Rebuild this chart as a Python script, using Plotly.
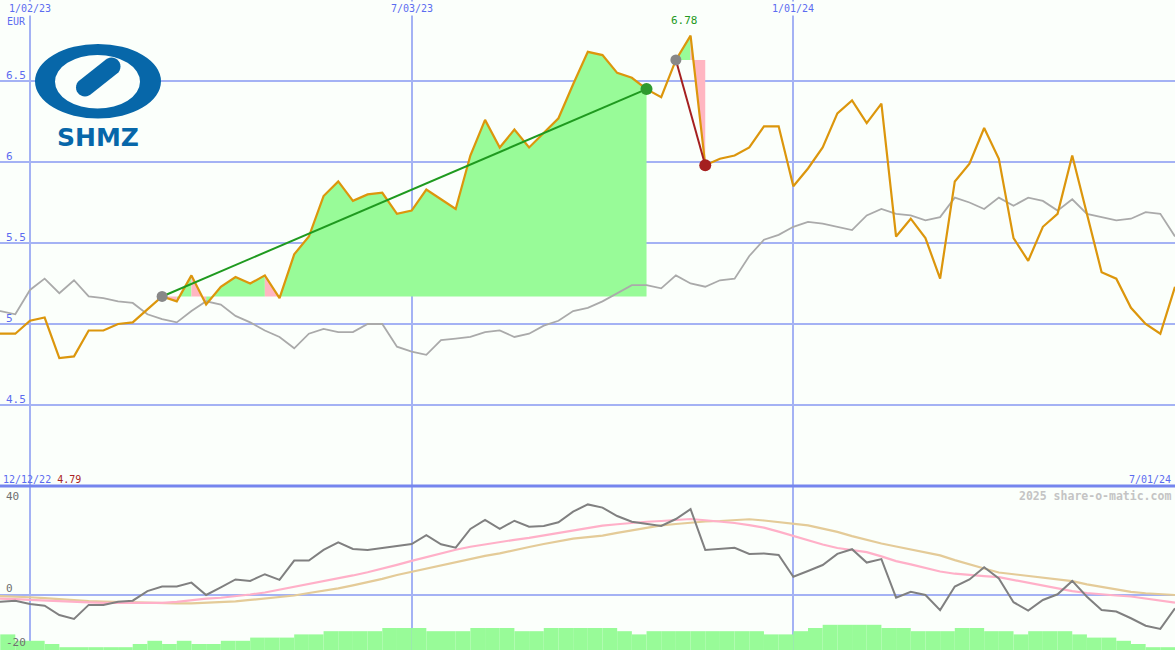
import math
import pandas as pd
import plotly.graph_objects as go

W, H = 1175, 650
BG = "#fbfffb"
GRID = "#a4b2f4"
BLUE_TXT = "#5b6cf0"
FONT = "DejaVu Sans Mono"

# ---------------- data ----------------
dates = pd.date_range("2022-12-12", periods=82, freq="7D")

price = [4.94, 4.94, 4.94, 5.02, 5.04, 4.79, 4.80, 4.96, 4.96, 5.00,
         5.01, 5.09, 5.17, 5.14, 5.30, 5.12, 5.23, 5.29, 5.25, 5.30,
         5.16, 5.43, 5.54, 5.79, 5.88, 5.76, 5.80, 5.81, 5.68, 5.70,
         5.83, 5.77, 5.71, 6.04, 6.26, 6.09, 6.20, 6.09, 6.18, 6.27,
         6.48, 6.68, 6.66, 6.55, 6.52, 6.45, 6.40, 6.63, 6.78, 5.98,
         6.02, 6.04, 6.09, 6.22, 6.22, 5.85, 5.96, 6.09, 6.30, 6.38,
         6.24, 6.36, 5.54, 5.65, 5.53, 5.28, 5.88, 5.99, 6.21, 6.02,
         5.53, 5.39, 5.60, 5.68, 6.04, 5.68, 5.32, 5.28, 5.10, 5.00,
         4.94, 5.23]

index_line = [5.08, 5.08, 5.06, 5.21, 5.28, 5.19, 5.27, 5.17, 5.16, 5.14,
              5.13, 5.06, 5.03, 5.01, 5.08, 5.14, 5.12, 5.05, 5.01, 4.96,
              4.92, 4.85, 4.94, 4.97, 4.95, 4.95, 5.00, 5.00, 4.86, 4.83,
              4.81, 4.90, 4.91, 4.92, 4.95, 4.96, 4.92, 4.94, 4.99, 5.02,
              5.08, 5.10, 5.14, 5.19, 5.24, 5.24, 5.22, 5.30, 5.25, 5.23,
              5.27, 5.28, 5.42, 5.52, 5.55, 5.60, 5.63, 5.62, 5.60, 5.58,
              5.67, 5.71, 5.68, 5.67, 5.64, 5.66, 5.78, 5.75, 5.71, 5.78,
              5.73, 5.78, 5.76, 5.70, 5.77, 5.68, 5.66, 5.64, 5.65, 5.69,
              5.68, 5.54]

momentum = [-2.7, -2.7, -2.3, -3.6, -4.3, -8.1, -9.7, -4.0, -4.0, -2.7,
            -2.3, 1.6, 3.4, 3.4, 5.0, 0.0, 3.1, 6.3, 5.7, 8.4,
            6.1, 13.9, 13.9, 18.2, 21.3, 18.6, 18.2, 18.9, 19.8, 20.6,
            24.2, 20.5, 19.1, 26.7, 30.3, 26.7, 30.0, 27.6, 27.9, 29.4,
            33.7, 36.6, 35.3, 31.9, 29.6, 28.6, 27.9, 30.7, 34.7, 18.2,
            18.6, 19.1, 16.6, 16.8, 16.2, 7.4, 9.7, 12.1, 16.6, 18.5,
            13.1, 14.5, -1.1, 1.3, 0.0, -6.1, 3.4, 6.3, 11.2, 6.7,
            -2.9, -6.3, -2.0, 0.3, 5.7, -0.7, -6.1, -6.7, -9.4, -12.4,
            -13.7, -5.4]

avg_fast = [-1.2, -1.3, -1.7, -2.0, -2.3, -2.5, -2.8, -3.0, -3.2, -3.2,
            -3.3, -3.3, -3.2, -2.8, -2.1, -1.5, -1.1, -0.6, 0.2, 1.0,
            2.1, 3.2, 4.4, 5.6, 6.7, 7.9, 9.2, 10.6, 12.2, 13.8,
            15.4, 16.9, 18.3, 19.5, 20.5, 21.5, 22.3, 23.1, 24.1, 25.0,
            26.0, 27.1, 28.0, 28.6, 29.2, 29.6, 29.9, 30.3, 30.7, 30.2,
            29.7, 29.1, 28.2, 27.2, 25.6, 23.8, 22.0, 20.4, 19.0, 18.1,
            17.3, 15.6, 13.7, 12.4, 10.9, 9.5, 8.6, 8.0, 7.6, 7.2,
            6.1, 4.8, 3.8, 2.6, 1.6, 0.8, 0.2, -0.2, -0.6, -1.4,
            -2.2, -3.1]

avg_slow = [-0.2, -0.4, -0.6, -0.9, -1.3, -1.8, -2.2, -2.5, -2.7, -2.9,
            -3.1, -3.2, -3.4, -3.4, -3.4, -3.2, -2.9, -2.6, -2.0, -1.4,
            -0.8, -0.2, 0.8, 1.7, 2.7, 3.9, 5.1, 6.5, 8.1, 9.4,
            10.6, 12.0, 13.4, 14.7, 15.8, 16.8, 18.2, 19.4, 20.6, 21.8,
            22.8, 23.4, 24.0, 25.1, 26.2, 27.3, 28.1, 28.7, 29.3, 29.7,
            29.9, 30.3, 30.6, 30.1, 29.5, 28.9, 28.1, 26.8, 25.5, 23.8,
            22.2, 20.8, 19.6, 18.5, 17.4, 16.0, 14.1, 12.3, 10.7, 9.1,
            8.4, 7.7, 7.1, 6.6, 5.6, 4.3, 3.2, 2.2, 1.3, 0.7,
            0.4, 0.0]

volume_level = [5, 5, 3, 3, 2, 1, 1, 1, 1, 1,
                2, 3, 2, 3, 2, 2, 3, 3, 4, 4,
                4, 5, 5, 6, 6, 6, 6, 7, 7, 7,
                6, 6, 6, 7, 7, 7, 6, 6, 7, 7,
                7, 7, 7, 6, 5, 6, 6, 6, 6, 6,
                6, 6, 6, 5, 5, 6, 7, 8, 8, 8,
                8, 7, 7, 6, 6, 6, 7, 7, 6, 6,
                5, 6, 6, 6, 5, 4, 4, 3, 2, 1,
                1, 1]

x_tick_dates = ["2023-01-02", "2023-07-03", "2024-01-01"]
y_ticks = [4.5, 5.0, 5.5, 6.0, 6.5]
y_tick_text = ["4.5", "5", "5.5", "6", "6.5"]
y2_ticks = [40, 0, -20]
y2_tick_text = ["40", "0", "-20"]
currency = "EUR"

# trend segments (start index, end index) into the series above
rise_seg = (12, 45)
fall_seg = (47, 49)

# ---------------- helpers ----------------
SPLIT = 1 - 486 / H


def fmt_date(d):
    d = pd.Timestamp(d)
    return f"{d.month}/{d.day:02d}/{d.year % 100:02d}"


def px(x, y):
    return x / W, 1 - y / H


x_start = pd.Timestamp("2023-01-02") - pd.Timedelta(days=30 * 182 / 382)
x_end = pd.Timestamp("2024-07-01")

GREEN_FILL = "#98fb98"
PINK_FILL = "#ffb6c1"

fig = go.Figure()


def seg_fill(i0, i1):
    base = price[i0]
    gx, gy, rx, ry = [], [], [], []
    for a in range(i0, i1):
        b = a + 1
        xs = [dates[a], dates[a], dates[b], dates[b], dates[a]]
        ys = [base, price[a], price[b], base, base]
        if price[b] >= base:
            gx += xs + [None]
            gy += ys + [None]
        else:
            rx += xs + [None]
            ry += ys + [None]
    for xs, ys, col in ((gx, gy, GREEN_FILL), (rx, ry, PINK_FILL)):
        if xs:
            fig.add_trace(go.Scatter(x=xs, y=ys, mode="lines", fill="toself",
                                     fillcolor=col, line=dict(width=0),
                                     hoverinfo="skip", xaxis="x", yaxis="y"))


seg_fill(*rise_seg)
seg_fill(*fall_seg)

# index (grey) line
fig.add_trace(go.Scatter(x=dates, y=index_line, mode="lines",
                         line=dict(color="#aaaaaa", width=1.8),
                         xaxis="x", yaxis="y"))
# price line
fig.add_trace(go.Scatter(x=dates, y=price, mode="lines",
                         line=dict(color="#dc960c", width=2.2),
                         xaxis="x", yaxis="y"))

# trend lines + markers
for (i0, i1), col, end_col in ((rise_seg, "#1f9a1f", "#2e9a2e"),
                               (fall_seg, "#a52020", "#a52020")):
    fig.add_trace(go.Scatter(x=[dates[i0], dates[i1]], y=[price[i0], price[i1]],
                             mode="lines", line=dict(color=col, width=2),
                             xaxis="x", yaxis="y"))
    fig.add_trace(go.Scatter(x=[dates[i0]], y=[price[i0]], mode="markers",
                             marker=dict(color="#888888", size=11, line=dict(width=0)),
                             xaxis="x", yaxis="y"))
    fig.add_trace(go.Scatter(x=[dates[i1]], y=[price[i1]], mode="markers",
                             marker=dict(color=end_col, size=12, line=dict(width=0)),
                             xaxis="x", yaxis="y"))

# lower panel
fig.add_trace(go.Bar(x=dates, y=volume_level, offset=0,
                     width=[7 * 24 * 3600 * 1000] * len(dates),
                     marker=dict(color=GREEN_FILL, line=dict(width=0)),
                     xaxis="x2", yaxis="y3"))
fig.add_trace(go.Scatter(x=dates, y=avg_slow, mode="lines",
                         line=dict(color="#e4cb98", width=2.2), xaxis="x2", yaxis="y2"))
fig.add_trace(go.Scatter(x=dates, y=avg_fast, mode="lines",
                         line=dict(color="#ffb0c8", width=2.2), xaxis="x2", yaxis="y2"))
fig.add_trace(go.Scatter(x=dates, y=momentum, mode="lines",
                         line=dict(color="#808080", width=2), xaxis="x2", yaxis="y2"))

axis_common = dict(showticklabels=False, zeroline=False, showline=False,
                   gridcolor=GRID, ticks="")

fig.update_layout(
    width=W, height=H, autosize=False,
    margin=dict(l=0, r=0, t=0, b=0, pad=0),
    paper_bgcolor=BG, plot_bgcolor=BG, showlegend=False,
    font=dict(family=FONT, size=10, color=BLUE_TXT),
    xaxis=dict(domain=[0, 1], range=[x_start, x_end], type="date", anchor="y",
               tickvals=x_tick_dates, gridwidth=1.5, **axis_common),
    yaxis=dict(domain=[SPLIT, 1], range=[4.0, 7.0], anchor="x",
               tickvals=y_ticks, gridwidth=2, **axis_common),
    xaxis2=dict(domain=[0, 1], range=[x_start, x_end], type="date", anchor="y2",
                tickvals=x_tick_dates, gridwidth=1.5, **axis_common),
    yaxis2=dict(domain=[0, SPLIT], range=[-22.22, 44.04], anchor="x2",
                tickvals=[0], gridwidth=2, **axis_common),
    yaxis3=dict(overlaying="y2", range=[0.125, 51.375], visible=False, anchor="x2"),
)

ann = []
# top date labels
for d in x_tick_dates:
    ann.append(dict(x=d, xref="x", y=1, yref="paper", yanchor="top", xanchor="center",
                    text=fmt_date(d), showarrow=False, yshift=-1, bgcolor=BG,
                    borderpad=1,
                    font=dict(family=FONT, size=10, color=BLUE_TXT)))
# currency label
ann.append(dict(x=px(5, 0)[0], xref="paper", y=px(0, 21.5)[1], yref="paper",
                xanchor="left", yanchor="middle", text=currency, showarrow=False,
                font=dict(family=FONT, size=10, color=BLUE_TXT)))
# price axis labels
for v, t in zip(y_ticks, y_tick_text):
    ann.append(dict(x=px(4, 0)[0], xref="paper", y=v, yref="y", xanchor="left",
                    yanchor="middle", yshift=6, text=t, showarrow=False,
                    font=dict(family=FONT, size=11, color=BLUE_TXT)))
# lower axis labels
for v, t, ys in zip(y2_ticks, y2_tick_text, [0, 6.5, 2.5]):
    ann.append(dict(x=px(4, 0)[0], xref="paper", y=v, yref="y2", xanchor="left",
                    yanchor="middle", yshift=ys, text=t, showarrow=False,
                    font=dict(family=FONT, size=11, color="#707070")))
# high label
i_max = max(range(len(price)), key=lambda i: price[i])
ann.append(dict(x=dates[i_max], xref="x", y=price[i_max], yref="y", yanchor="bottom",
                xshift=-6, yshift=7, text=f"{price[i_max]:.2f}", showarrow=False,
                font=dict(family=FONT, size=11, color="#229922")))
# start date + low
ann.append(dict(x=px(1, 0)[0], xref="paper", y=px(0, 479)[1], yref="paper",
                xanchor="left", yanchor="middle", showarrow=False,
                text=f"{fmt_date(dates[0])} <span style='color:#aa2222'>{min(price):.2f}</span>",
                font=dict(family=FONT, size=10, color=BLUE_TXT)))
ann.append(dict(x=px(1173, 0)[0], xref="paper", y=px(0, 479)[1], yref="paper",
                xanchor="right", yanchor="middle", showarrow=False,
                text=fmt_date(dates[-1]),
                font=dict(family=FONT, size=10, color=BLUE_TXT)))
ann.append(dict(x=px(1173, 0)[0], xref="paper", y=px(0, 496)[1], yref="paper",
                xanchor="right", yanchor="middle", showarrow=False,
                text="<b>2025 share-o-matic.com</b>",
                font=dict(family=FONT, size=11.5, color="#c4c4c4")))
# logo text
ann.append(dict(x=px(97.5, 0)[0], xref="paper", y=px(0, 137)[1], yref="paper",
                xanchor="center", yanchor="middle", showarrow=False,
                text="<b>SHMZ</b>",
                font=dict(family="DejaVu Sans", size=25, color="#0767a9")))
fig.update_layout(annotations=ann)

# ---------------- shapes ----------------
shapes = []
# divider between panels
shapes.append(dict(type="line", xref="paper", yref="paper", x0=0, x1=1,
                   y0=SPLIT, y1=SPLIT, line=dict(color="#7585ee", width=3),
                   layer="above"))

LOGO = "#0767a9"
ox0, oy0 = px(35, 44)
ox1, oy1 = px(161, 118.5)
shapes.append(dict(type="circle", xref="paper", yref="paper", x0=ox0, x1=ox1,
                   y0=oy1, y1=oy0, fillcolor=LOGO, line=dict(width=0), layer="above"))
ix0, iy0 = px(55, 55)
ix1, iy1 = px(140, 108.5)
shapes.append(dict(type="circle", xref="paper", yref="paper", x0=ix0, x1=ix1,
                   y0=iy1, y1=iy0, fillcolor=BG, line=dict(width=0), layer="above"))


def capsule(p1, p2, r, n=14):
    (x1, y1), (x2, y2) = p1, p2
    ang = math.atan2(y2 - y1, x2 - x1)
    pts = []
    for i in range(n + 1):
        a = ang - math.pi / 2 + math.pi * i / n
        pts.append((x2 + r * math.cos(a), y2 + r * math.sin(a)))
    for i in range(n + 1):
        a = ang + math.pi / 2 + math.pi * i / n
        pts.append((x1 + r * math.cos(a), y1 + r * math.sin(a)))
    return pts


pts = capsule((85, 87.5), (111.5, 66.5), 9)
path = "M " + " L ".join(f"{px(x, y)[0]:.5f},{px(x, y)[1]:.5f}" for x, y in pts) + " Z"
shapes.append(dict(type="path", xref="paper", yref="paper", path=path,
                   fillcolor=LOGO, line=dict(width=0), layer="above"))
fig.update_layout(shapes=shapes)

fig.write_html("out.html", include_plotlyjs=True, config={"displayModeBar": False},
               post_script="document.body.style.margin='0';document.body.style.padding='0';")
